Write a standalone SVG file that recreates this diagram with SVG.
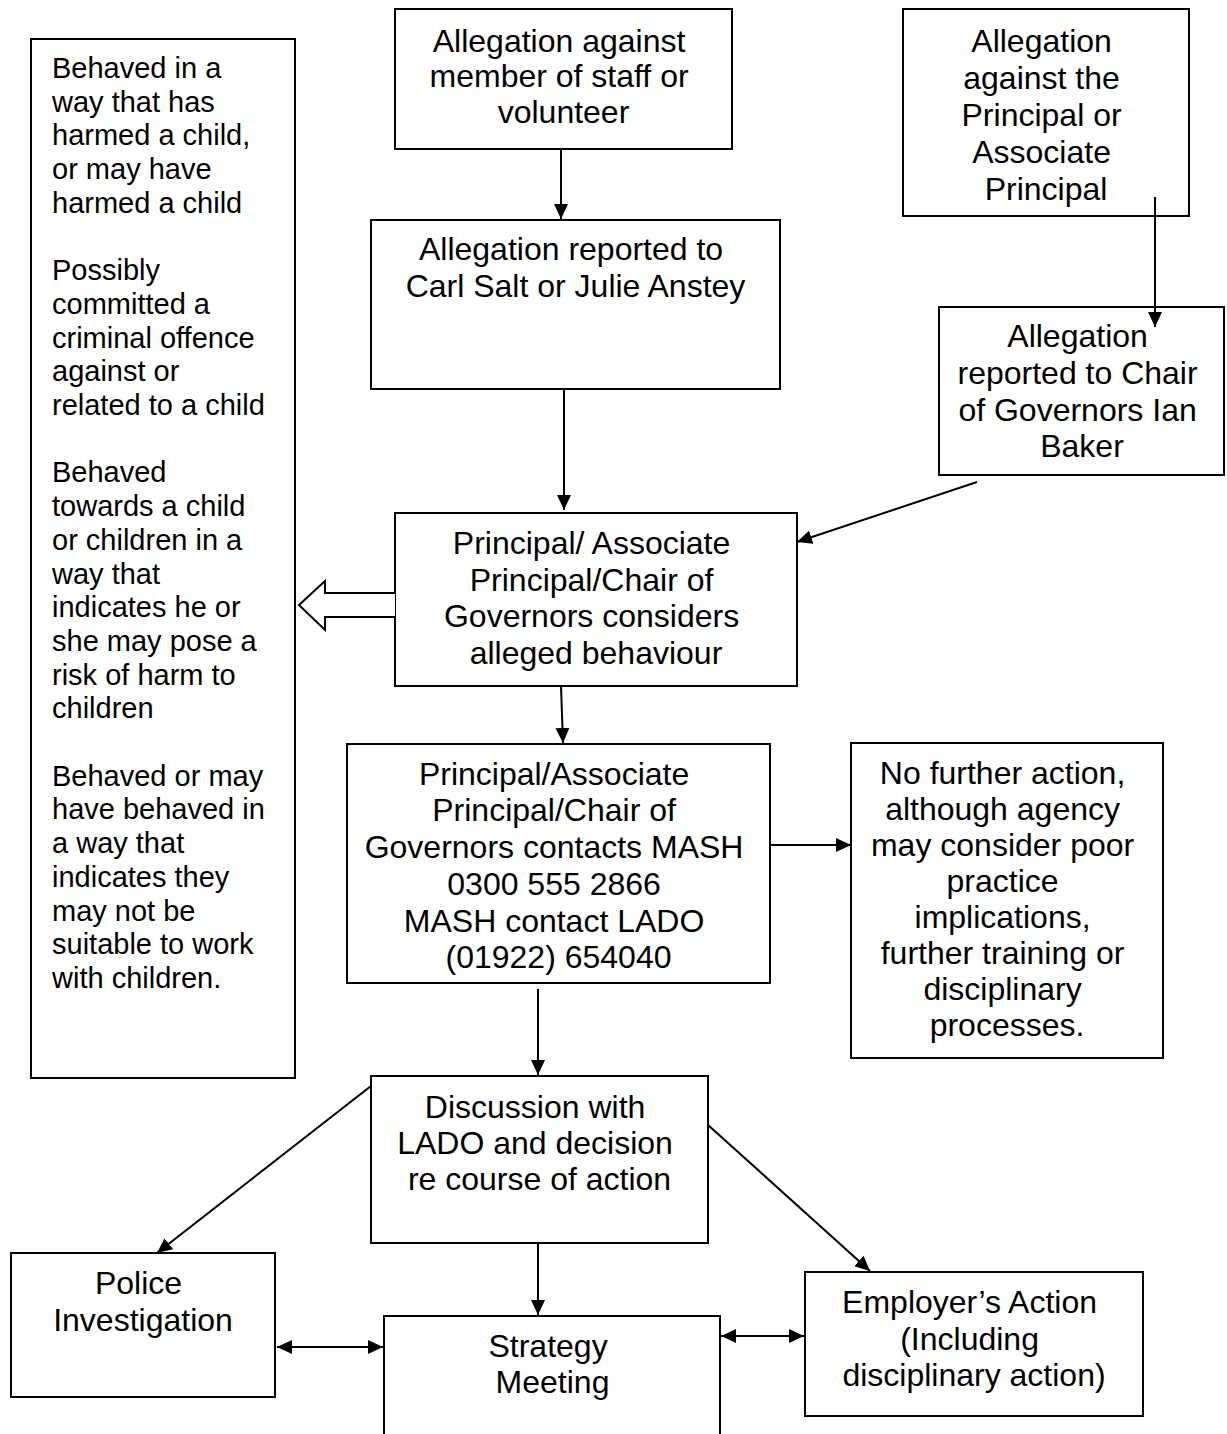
<svg xmlns="http://www.w3.org/2000/svg" width="1227" height="1434" viewBox="0 0 1227 1434">
<style>
  .box { fill: #ffffff; stroke: #000000; stroke-width: 2; }
  .t { font-family: "Liberation Sans", Arial, sans-serif; font-size: 32px; fill: #000000; text-anchor: middle; }
  .tl { font-family: "Liberation Sans", Arial, sans-serif; font-size: 29px; fill: #000000; }
  .c { fill: none; stroke: #000000; stroke-width: 2; }
  .a { marker-end: url(#ah); }
  .d { marker-start: url(#ahs); marker-end: url(#ah); }
</style>
<defs>
  <marker id="ah" markerUnits="userSpaceOnUse" markerWidth="16" markerHeight="14" refX="15" refY="7" orient="auto">
    <path d="M0,0 L15,7 L0,14 z" fill="#000000"/>
  </marker>
  <marker id="ahs" markerUnits="userSpaceOnUse" markerWidth="16" markerHeight="14" refX="0" refY="7" orient="auto">
    <path d="M15,0 L0,7 L15,14 z" fill="#000000"/>
  </marker>
</defs>
<rect width="1227" height="1434" fill="#ffffff"/>

<g id="criteria">
  <rect class="box" x="31" y="39" width="264" height="1039"/>
  <text class="tl" x="52" y="78">
    <tspan x="52" y="78">Behaved in a</tspan>
    <tspan x="52" y="111.7">way that has</tspan>
    <tspan x="52" y="145.4">harmed a child,</tspan>
    <tspan x="52" y="179.1">or may have</tspan>
    <tspan x="52" y="212.8">harmed a child</tspan>
    <tspan x="52" y="280.2">Possibly</tspan>
    <tspan x="52" y="313.9">committed a</tspan>
    <tspan x="52" y="347.6">criminal offence</tspan>
    <tspan x="52" y="381.3">against or</tspan>
    <tspan x="52" y="415">related to a child</tspan>
    <tspan x="52" y="482.4">Behaved</tspan>
    <tspan x="52" y="516.1">towards a child</tspan>
    <tspan x="52" y="549.8">or children in a</tspan>
    <tspan x="52" y="583.5">way that</tspan>
    <tspan x="52" y="617.2">indicates he or</tspan>
    <tspan x="52" y="650.9">she may pose a</tspan>
    <tspan x="52" y="684.6">risk of harm to</tspan>
    <tspan x="52" y="718.3">children</tspan>
    <tspan x="52" y="785.7">Behaved or may</tspan>
    <tspan x="52" y="819.4">have behaved in</tspan>
    <tspan x="52" y="853.1">a way that</tspan>
    <tspan x="52" y="886.8">indicates they</tspan>
    <tspan x="52" y="920.5">may not be</tspan>
    <tspan x="52" y="954.2">suitable to work</tspan>
    <tspan x="52" y="987.9">with children.</tspan>
  </text>
</g>

<g id="staff-allegation">
  <rect class="box" x="395" y="9" width="337" height="140"/>
  <text class="t">
    <tspan x="563.5" y="52">Allegation against</tspan>
    <tspan x="563.5" y="87">member of staff or</tspan>
    <tspan x="563.5" y="123">volunteer</tspan>
  </text>
</g>

<g id="principal-allegation">
  <rect class="box" x="903" y="9" width="286" height="207"/>
  <text class="t">
    <tspan x="1046" y="52">Allegation</tspan>
    <tspan x="1046" y="89">against the</tspan>
    <tspan x="1046" y="126">Principal or</tspan>
    <tspan x="1046" y="163">Associate</tspan>
    <tspan x="1046" y="200">Principal</tspan>
  </text>
</g>

<g id="reported-carl">
  <rect class="box" x="371" y="220" width="409" height="169"/>
  <text class="t">
    <tspan x="575.5" y="260">Allegation reported to</tspan>
    <tspan x="575.5" y="297">Carl Salt or Julie Anstey</tspan>
  </text>
</g>

<g id="reported-chair">
  <rect class="box" x="939" y="307" width="285" height="168"/>
  <text class="t">
    <tspan x="1082" y="347">Allegation</tspan>
    <tspan x="1082" y="384">reported to Chair</tspan>
    <tspan x="1082" y="421">of Governors Ian</tspan>
    <tspan x="1082" y="457">Baker</tspan>
  </text>
</g>

<g id="considers">
  <rect class="box" x="395" y="513" width="402" height="173"/>
  <text class="t">
    <tspan x="596" y="554">Principal/ Associate</tspan>
    <tspan x="596" y="591">Principal/Chair of</tspan>
    <tspan x="596" y="627">Governors considers</tspan>
    <tspan x="596" y="664">alleged behaviour</tspan>
  </text>
</g>

<g id="contacts-mash">
  <rect class="box" x="347" y="744" width="423" height="239"/>
  <text class="t">
    <tspan x="558.5" y="785">Principal/Associate</tspan>
    <tspan x="558.5" y="821">Principal/Chair of</tspan>
    <tspan x="558.5" y="858">Governors contacts MASH</tspan>
    <tspan x="558.5" y="895">0300 555 2866</tspan>
    <tspan x="558.5" y="932">MASH contact LADO</tspan>
    <tspan x="558.5" y="968">(01922) 654040</tspan>
  </text>
</g>

<g id="no-further-action">
  <rect class="box" x="851" y="743" width="312" height="315"/>
  <text class="t">
    <tspan x="1007" y="784">No further action,</tspan>
    <tspan x="1007" y="820">although agency</tspan>
    <tspan x="1007" y="856">may consider poor</tspan>
    <tspan x="1007" y="892">practice</tspan>
    <tspan x="1007" y="928">implications,</tspan>
    <tspan x="1007" y="964">further training or</tspan>
    <tspan x="1007" y="1000">disciplinary</tspan>
    <tspan x="1007" y="1036">processes.</tspan>
  </text>
</g>

<g id="discussion">
  <rect class="box" x="371" y="1076" width="337" height="167"/>
  <text class="t">
    <tspan x="539.5" y="1118">Discussion with</tspan>
    <tspan x="539.5" y="1154">LADO and decision</tspan>
    <tspan x="539.5" y="1190">re course of action</tspan>
  </text>
</g>

<g id="police">
  <rect class="box" x="11" y="1253" width="264" height="144"/>
  <text class="t">
    <tspan x="143" y="1294">Police</tspan>
    <tspan x="143" y="1331">Investigation</tspan>
  </text>
</g>

<g id="strategy">
  <rect class="box" x="384" y="1316" width="336" height="140"/>
  <text class="t">
    <tspan x="552.5" y="1357">Strategy</tspan>
    <tspan x="552.5" y="1393">Meeting</tspan>
  </text>
</g>

<g id="employer">
  <rect class="box" x="805" y="1272" width="338" height="144"/>
  <text class="t">
    <tspan x="974" y="1313">Employer’s Action</tspan>
    <tspan x="974" y="1350">(Including</tspan>
    <tspan x="974" y="1386">disciplinary action)</tspan>
  </text>
</g>

<g id="connectors">
  <line class="c a" x1="561" y1="149" x2="561" y2="219"/>
  <line class="c a" x1="1155" y1="197" x2="1155" y2="327"/>
  <line class="c a" x1="564" y1="389" x2="564" y2="510"/>
  <line class="c a" x1="977" y1="482" x2="797" y2="542"/>
  <polyline points="395,593 325,593 325,581 299,605 325,630 325,617 395,617" fill="#ffffff" stroke="#000000" stroke-width="2" stroke-linejoin="miter"/>
  <line class="c a" x1="561" y1="686" x2="563" y2="743"/>
  <line class="c a" x1="770" y1="845" x2="851" y2="845"/>
  <line class="c a" x1="538" y1="989" x2="538" y2="1075"/>
  <line class="c a" x1="371" y1="1086" x2="157" y2="1253"/>
  <line class="c a" x1="708" y1="1125" x2="870" y2="1271"/>
  <line class="c a" x1="538" y1="1243" x2="538" y2="1315"/>
  <line class="c d" x1="277" y1="1347" x2="383" y2="1347"/>
  <line class="c d" x1="721" y1="1336" x2="804" y2="1336"/>
</g>
</svg>
